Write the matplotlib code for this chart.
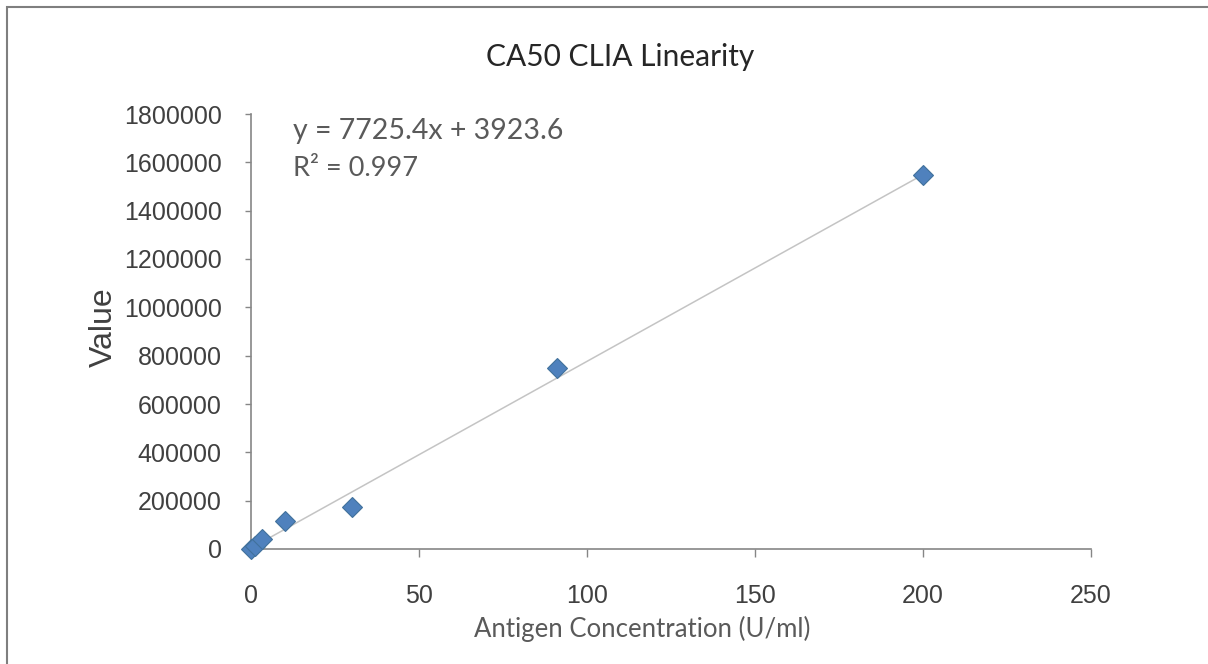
import matplotlib
matplotlib.use("Agg")
import matplotlib.pyplot as plt
from matplotlib.patches import Rectangle
import numpy as np

# antigen concentration (U/ml) and signal values
conc = [0, 1.1, 3.3, 10, 30, 91, 200]
value = [2000, 12000, 41000, 116000, 175000, 749000, 1547000]

slope = 7725.4
intercept = 3923.6
r2 = 0.997

x_ticks = [0, 50, 100, 150, 200, 250]
y_ticks = [0, 200000, 400000, 600000, 800000, 1000000, 1200000, 1400000, 1600000, 1800000]

txt = "#404040"
soft = "#5a5a5a"
axis_col = "#868686"

fig = plt.figure(figsize=(12.08, 6.64), dpi=100)
ax = fig.add_axes([251 / 1208, 1 - 549 / 664, 840 / 1208, 435 / 664])

# outer chart border (runs off the right and bottom edges)
fig.patches.append(Rectangle((7 / 1208, -0.05), 1.1, (664 - 7) / 664 + 0.05,
                             transform=fig.transFigure, fill=False,
                             edgecolor="#7f7f7f", linewidth=1.5, clip_on=False))

xs = np.array([min(conc), max(conc)])
ax.plot(xs, slope * xs + intercept, color="#c4c4c4", linewidth=1.1, zorder=2)
ax.plot(conc, value, linestyle="none", marker="D", markersize=10.5, clip_on=False,
        markerfacecolor="#4f81bd", markeredgecolor="#41719c", markeredgewidth=0.8, zorder=3)

ax.set_xlim(0, 250)
ax.set_ylim(0, 1800000)
ax.set_xticks(x_ticks)
ax.set_yticks(y_ticks)
ax.set_xticklabels([str(t) for t in x_ticks], fontsize=18, family="Liberation Sans", color=txt)
ax.set_yticklabels([str(t) for t in y_ticks], fontsize=18, family="Liberation Sans", color=txt)
ax.tick_params(axis="x", length=6, width=1, color=axis_col, pad=19)
ax.tick_params(axis="y", length=4, width=1, color=axis_col, pad=17)

for s in ["top", "right"]:
    ax.spines[s].set_visible(False)
for s in ["left", "bottom"]:
    ax.spines[s].set_color(axis_col)
    ax.spines[s].set_linewidth(1.2)

ax.set_ylabel("Value", family="Liberation Sans", fontsize=23, color=txt)
ax.yaxis.set_label_coords(-0.157, 0.51)

fig.text(642 / 1208, 1 - 629 / 664, "Antigen Concentration (U/ml)", family="Lato",
         fontsize=18.5, color=soft, ha="center", va="center")

fig.text(620 / 1208, 1 - 57 / 664, "CA50 CLIA Linearity", family="Lato", fontsize=21.5,
         color="#262626", ha="center", va="center")

fig.text(293 / 1208, 1 - 131 / 664, f"y = {slope}x + {intercept}",
         family="Lato", fontsize=20.5, color=soft, ha="left", va="center")
fig.text(293 / 1208, 1 - 168 / 664, f"R² = {r2}",
         family="Lato", fontsize=19.5, color=soft, ha="left", va="center")

fig.savefig("out.png", dpi=100, facecolor="white")
